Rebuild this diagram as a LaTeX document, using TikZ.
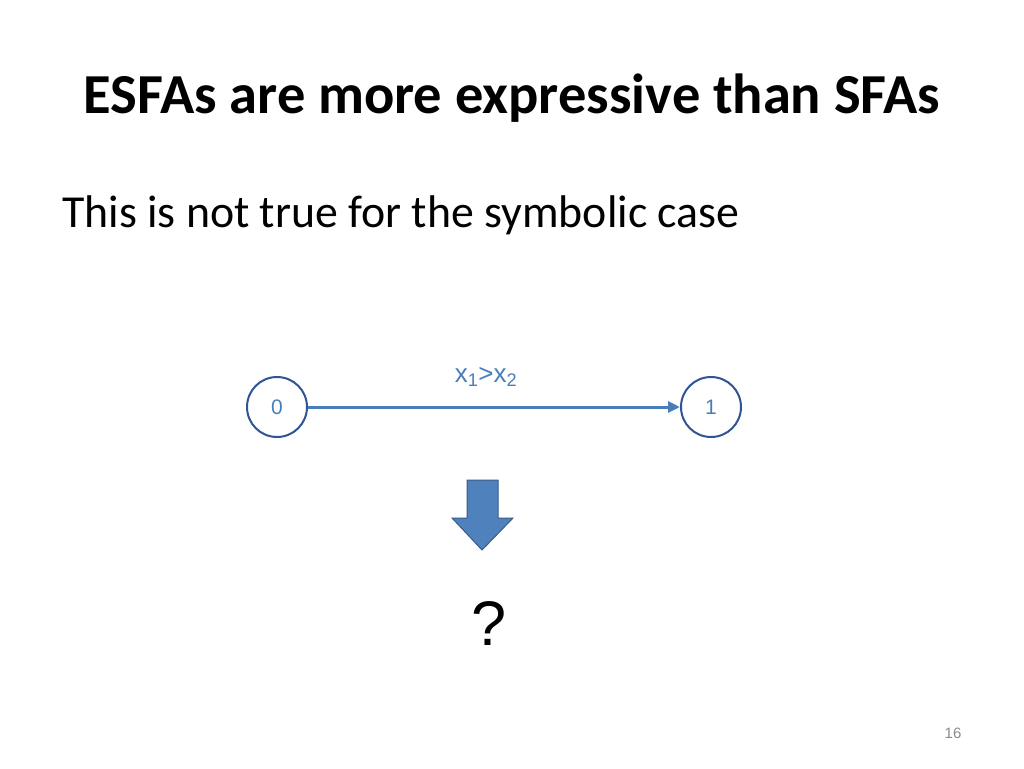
\documentclass[tikz,border=0pt]{standalone}
\usepackage{fontspec}
\setmainfont{Carlito}
\newfontfamily\arialfont{Liberation Sans}
\usetikzlibrary{arrows.meta}
\definecolor{stateline}{HTML}{2F5597}
\definecolor{edgeblue}{HTML}{4A7EBB}
\definecolor{arrowfill}{HTML}{4F81BD}
\definecolor{arrowline}{HTML}{385D8A}
\definecolor{pagegrey}{HTML}{8C8C8C}
\tikzset{
  state/.style={circle, draw=stateline, line width=2pt, minimum size=60pt, inner sep=0pt,
    text=edgeblue, font=\arialfont\fontsize{21}{25}\selectfont},
  trans/.style={draw=edgeblue, line width=3pt, -{Triangle[length=12pt,width=11pt]}},
  lbl/.style={text=edgeblue, font=\arialfont\fontsize{26}{30}\selectfont, inner sep=0pt}
}
\begin{document}
\begin{tikzpicture}[x=1pt,y=-1pt]
\useasboundingbox[fill=white] (0,0) rectangle (1024,768);
\node[font=\bfseries\fontsize{56.5}{64}\selectfont, inner sep=0pt, anchor=base] (title) at (512,113) {ESFAs are more expressive than SFAs};
\node[font=\fontsize{45.8}{54}\selectfont, inner sep=0pt, anchor=base west] (body) at (62,227) {This is not true for the symbolic case};
\node[state] (s0) at (277,407) {0};
\node[state] (s1) at (711,407) {1};
\draw[trans] (s0) -- (s1);
\node[lbl] (guard) at (486,377) {x\textsubscript{1}>x\textsubscript{2}};
\draw[fill=arrowfill, draw=arrowline, line width=1pt]
  (467,480) -- (498,480) -- (498,518) -- (513,518) -- (482,550) -- (452,518) -- (467,518) -- cycle;
\node[font=\arialfont\fontsize{63}{72}\selectfont, inner sep=0pt] (q) at (489,623) {?};
\node[font=\arialfont\fontsize{15}{18}\selectfont, text=pagegrey, inner sep=0pt] (page) at (953,733) {16};
\end{tikzpicture}
\end{document}
